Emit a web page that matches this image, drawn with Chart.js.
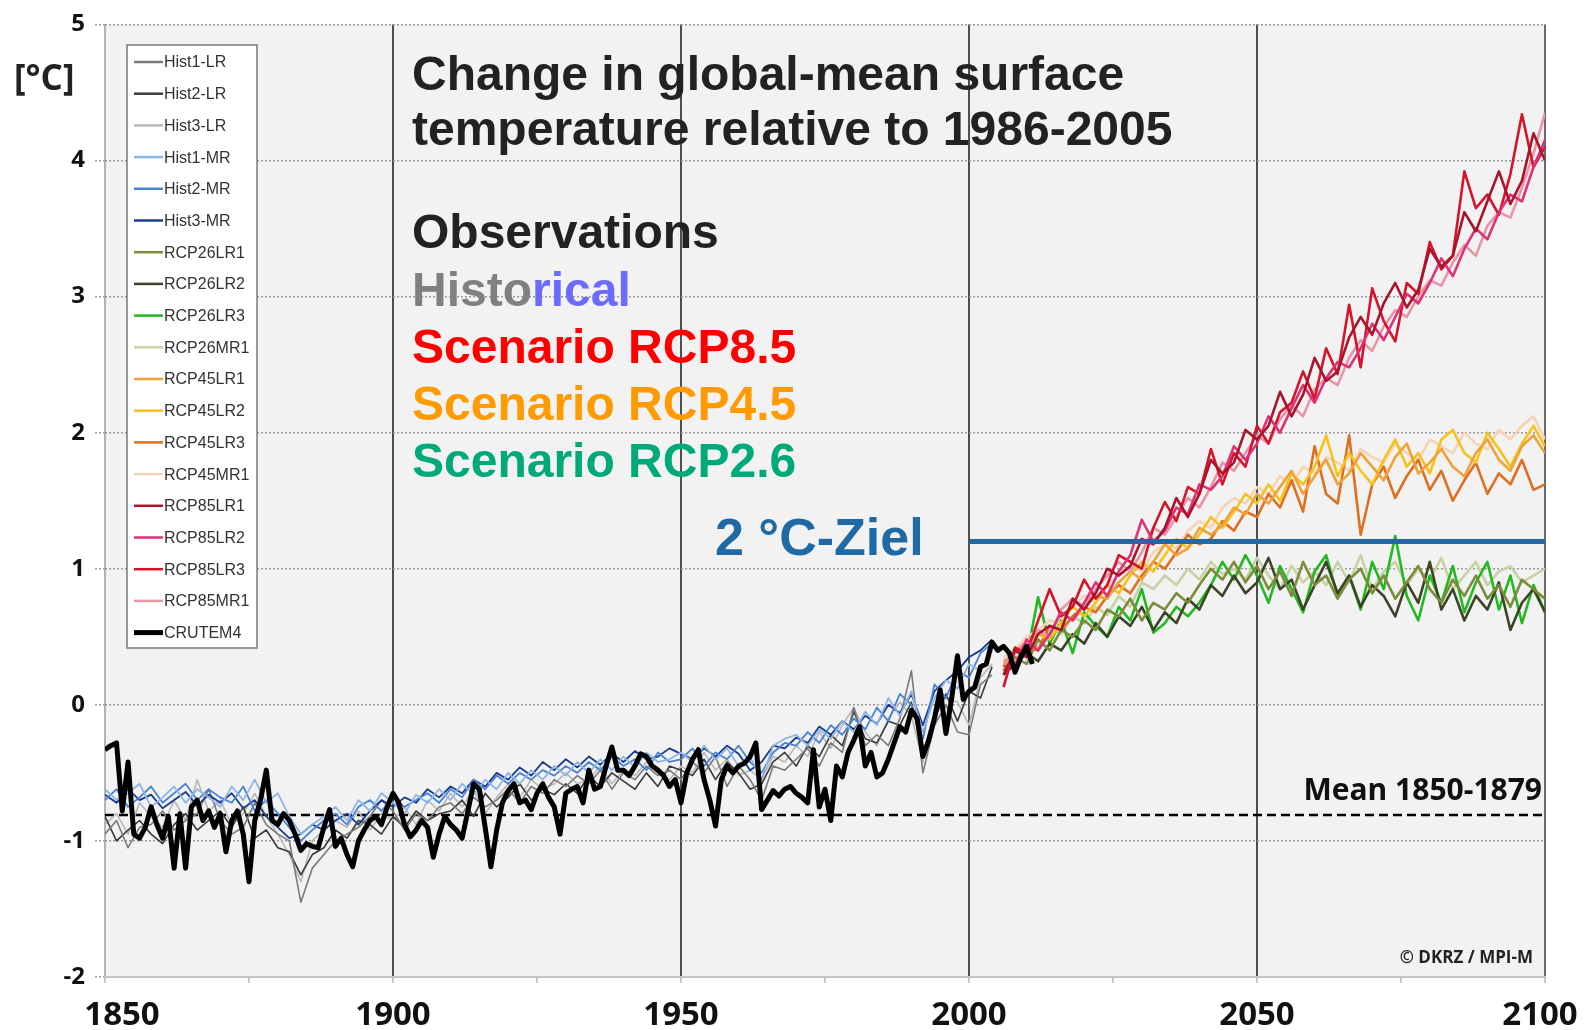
<!DOCTYPE html>
<html>
<head>
<meta charset="utf-8">
<title>Change in global-mean surface temperature</title>
<script src="https://cdn.jsdelivr.net/npm/chart.js@4/dist/chart.umd.min.js"></script>
<style>
  html, body { margin: 0; padding: 0; background: #fff; }
  canvas { display: block; }
</style>
</head>
<body>
<canvas id="chart" width="1590" height="1030"></canvas>
<script>
// ---------------------------------------------------------------------------
// Data (anomalies in °C relative to 1986-2005)
// ---------------------------------------------------------------------------

const X_TICKS = [1850, 1900, 1950, 2000, 2050, 2100];
const Y_TICKS = [-2, -1, 0, 1, 2, 3, 4, 5];

// model runs are sampled every 2 years
const HIST_START = 1850;
const RCP_START = 2006;
const MODEL_STEP = 2;
// observations are annual
const OBS_START = 1850;

const HIST1_LR = [
  -0.95, -0.85, -1.05, -0.90, -0.88, -0.78, -0.92, -0.85, -0.80, -0.62,
  -0.85, -0.95, -0.90, -0.72, -0.88, -0.95, -1.00, -1.45, -1.20, -1.10,
  -1.00, -0.95, -0.90, -0.82, -0.70, -0.78, -0.92, -0.80, -0.85, -0.75,
  -0.72, -0.80, -0.68, -0.75, -0.70, -0.62, -0.72, -0.60, -0.65, -0.55,
  -0.60, -0.52, -0.58, -0.48, -0.62, -0.50, -0.55, -0.45, -0.52, -0.48,
  -0.55, -0.42, -0.50, -0.38, -0.60, -0.45, -0.55, -0.70, -0.45, -0.48,
  -0.40, -0.32, -0.45, -0.28, -0.35, -0.02, -0.30, -0.22, -0.30, -0.10,
  0.25, -0.50, -0.15, 0.00, -0.20, -0.22, 0.15, 0.22,
];
const HIST2_LR = [
  -0.82, -1.00, -0.92, -0.85, -0.95, -1.02, -0.88, -0.80, -0.92, -0.85,
  -0.78, -0.90, -0.75, -0.98, -0.92, -1.05, -1.08, -1.25, -1.10, -1.05,
  -0.92, -0.98, -0.85, -0.88, -0.95, -0.82, -0.90, -0.78, -0.85, -0.80,
  -0.78, -0.70, -0.82, -0.65, -0.75, -0.68, -0.58, -0.70, -0.62, -0.66,
  -0.58, -0.65, -0.52, -0.60, -0.50, -0.56, -0.62, -0.50, -0.60, -0.45,
  -0.48, -0.52, -0.40, -0.55, -0.42, -0.50, -0.62, -0.58, -0.42, -0.35,
  -0.45, -0.30, -0.38, -0.22, -0.30, -0.05, -0.25, -0.28, -0.12, -0.15,
  0.02, -0.35, -0.10, 0.08, -0.12, 0.10, 0.05, 0.28,
];
const HIST3_LR = [
  -0.88, -0.80, -0.95, -0.72, -0.82, -0.90, -0.70, -0.85, -0.55, -0.78,
  -0.70, -0.88, -0.80, -0.65, -0.82, -0.95, -1.10, -1.30, -1.00, -0.92,
  -0.85, -0.90, -0.78, -0.92, -0.80, -0.85, -0.75, -0.88, -0.70, -0.78,
  -0.65, -0.75, -0.62, -0.80, -0.68, -0.58, -0.68, -0.55, -0.62, -0.58,
  -0.50, -0.58, -0.55, -0.45, -0.58, -0.48, -0.52, -0.42, -0.50, -0.55,
  -0.45, -0.50, -0.35, -0.48, -0.40, -0.52, -0.48, -0.55, -0.38, -0.42,
  -0.30, -0.38, -0.20, -0.32, -0.15, -0.02, -0.20, -0.30, -0.10, 0.02,
  -0.08, -0.42, -0.05, 0.05, 0.02, -0.15, 0.20, 0.30,
];
const HIST1_MR = [
  -0.62, -0.70, -0.65, -0.58, -0.75, -0.68, -0.60, -0.72, -0.62, -0.68,
  -0.75, -0.60, -0.70, -0.55, -0.72, -0.65, -0.82, -0.95, -0.88, -0.82,
  -0.75, -0.85, -0.70, -0.78, -0.65, -0.72, -0.80, -0.66, -0.72, -0.62,
  -0.70, -0.58, -0.66, -0.55, -0.62, -0.50, -0.58, -0.48, -0.55, -0.45,
  -0.52, -0.42, -0.50, -0.40, -0.48, -0.38, -0.46, -0.35, -0.42, -0.40,
  -0.35, -0.42, -0.30, -0.40, -0.32, -0.45, -0.38, -0.55, -0.30, -0.25,
  -0.22, -0.30, -0.18, -0.25, -0.12, -0.20, -0.05, -0.15, 0.05, -0.08,
  0.10, -0.20, 0.05, 0.18, 0.12, 0.30, 0.25, 0.40,
];
const HIST2_MR = [
  -0.70, -0.62, -0.75, -0.68, -0.60, -0.72, -0.65, -0.58, -0.70, -0.62,
  -0.68, -0.72, -0.60, -0.78, -0.70, -0.80, -0.90, -1.00, -0.92, -0.85,
  -0.80, -0.88, -0.75, -0.70, -0.78, -0.68, -0.75, -0.70, -0.65, -0.72,
  -0.62, -0.68, -0.55, -0.62, -0.52, -0.58, -0.50, -0.55, -0.48, -0.52,
  -0.45, -0.50, -0.42, -0.48, -0.38, -0.45, -0.40, -0.48, -0.35, -0.42,
  -0.40, -0.32, -0.45, -0.35, -0.40, -0.30, -0.42, -0.50, -0.35, -0.28,
  -0.30, -0.20, -0.28, -0.15, -0.22, -0.10, -0.18, -0.02, -0.12, 0.08,
  0.00, -0.25, 0.15, 0.05, 0.25, 0.20, 0.38, 0.45,
];
const HIST3_MR = [
  -0.66, -0.72, -0.62, -0.70, -0.66, -0.76, -0.70, -0.64, -0.74, -0.66,
  -0.72, -0.65, -0.76, -0.70, -0.82, -0.90, -0.98, -0.95, -0.88, -0.92,
  -0.85, -0.80, -0.88, -0.78, -0.70, -0.75, -0.68, -0.72, -0.62, -0.68,
  -0.60, -0.65, -0.55, -0.60, -0.50, -0.55, -0.46, -0.52, -0.42, -0.48,
  -0.40, -0.46, -0.38, -0.44, -0.36, -0.42, -0.34, -0.40, -0.38, -0.32,
  -0.36, -0.40, -0.32, -0.38, -0.30, -0.36, -0.48, -0.42, -0.30, -0.32,
  -0.24, -0.28, -0.16, -0.22, -0.12, -0.18, -0.08, -0.14, 0.00, -0.06,
  0.08, -0.15, 0.10, 0.18, 0.25, 0.35, 0.40, 0.48,
];

const RCP26_LR1 = [
  0.25, 0.35, 0.30, 0.48, 0.40, 0.55, 0.50, 0.62, 0.55, 0.70,
  0.65, 0.78, 0.62, 0.75, 0.70, 0.82, 0.75, 0.88, 1.00, 0.92,
  1.05, 0.90, 1.02, 0.85, 0.98, 0.80, 1.05, 0.88, 0.95, 0.78,
  0.92, 1.00, 0.82, 0.95, 0.78, 0.90, 1.02, 0.85, 0.75, 0.92,
  0.80, 0.95, 0.78, 0.88, 0.72, 0.92, 0.85, 0.78,
];
const RCP26_LR2 = [
  0.22, 0.30, 0.38, 0.32, 0.45, 0.40, 0.52, 0.45, 0.60, 0.50,
  0.65, 0.58, 0.72, 0.55, 0.68, 0.60, 0.78, 0.70, 0.88, 0.80,
  0.95, 0.82, 0.90, 1.08, 0.85, 0.92, 0.70, 0.88, 1.05, 0.82,
  0.95, 0.72, 0.88, 0.80, 0.65, 0.90, 0.75, 1.05, 0.70, 0.85,
  0.62, 0.80, 0.70, 0.90, 0.55, 0.75, 0.85, 0.68,
];
const RCP26_LR3 = [
  0.28, 0.42, 0.35, 0.79, 0.45, 0.62, 0.38, 0.68, 0.58, 0.50,
  0.72, 0.62, 0.85, 0.53, 0.60, 0.72, 0.65, 0.75, 0.88, 1.05,
  0.92, 1.10, 0.95, 0.75, 1.02, 0.85, 0.68, 0.98, 1.10, 0.80,
  0.95, 0.70, 1.05, 0.85, 1.24, 0.80, 0.62, 0.95, 0.75, 1.02,
  0.68, 0.90, 1.05, 0.70, 0.95, 0.60, 0.88, 0.68,
];
const RCP26_MR1 = [
  0.30, 0.38, 0.48, 0.42, 0.58, 0.52, 0.65, 0.60, 0.72, 0.66,
  0.80, 0.72, 0.90, 0.85, 0.95, 0.88, 1.00, 0.92, 1.05, 0.96,
  1.00, 0.92, 1.08, 0.95, 0.85, 1.02, 0.90, 0.98, 0.88, 1.05,
  0.90, 1.10, 0.85, 0.98, 1.05, 0.88, 1.00, 0.92, 1.08, 0.85,
  0.95, 1.05, 0.88, 0.98, 1.02, 0.90, 0.95, 1.00,
];

const RCP45_LR1 = [
  0.28, 0.40, 0.45, 0.52, 0.50, 0.68, 0.62, 0.72, 0.80, 0.78,
  0.90, 0.98, 0.92, 1.05, 1.18, 1.10, 1.15, 1.30, 1.25, 1.32,
  1.45, 1.40, 1.55, 1.48, 1.60, 1.72, 1.55, 1.68, 1.80, 1.62,
  1.70, 1.85, 1.75, 1.65, 1.82, 1.92, 1.70, 1.78, 1.88, 1.75,
  1.68, 1.85, 1.95, 1.80, 1.72, 1.90, 1.98, 1.85,
];
const RCP45_LR2 = [
  0.32, 0.30, 0.45, 0.52, 0.48, 0.60, 0.72, 0.65, 0.75, 0.88,
  0.82, 0.95, 1.05, 0.98, 1.10, 1.22, 1.15, 1.25, 1.38, 1.30,
  1.42, 1.55, 1.48, 1.62, 1.50, 1.70, 1.62, 1.75, 1.98, 1.68,
  1.85, 1.72, 1.62, 1.80, 1.95, 1.75, 1.85, 1.70, 1.95, 2.02,
  1.85, 1.78, 2.00, 1.88, 1.75, 1.92, 2.05, 1.90,
];
const RCP45_LR3 = [
  0.25, 0.38, 0.42, 0.40, 0.58, 0.55, 0.65, 0.72, 0.68, 0.80,
  0.88, 0.82, 0.95, 1.05, 1.00, 1.12, 1.25, 1.18, 1.22, 1.35,
  1.28, 1.42, 1.38, 1.55, 1.45, 1.65, 1.42, 1.90, 1.55, 1.48,
  1.98, 1.25, 1.62, 1.75, 1.52, 1.68, 1.80, 1.58, 1.72, 1.50,
  1.65, 1.78, 1.55, 1.70, 1.62, 1.80, 1.58, 1.62,
];
const RCP45_MR1 = [
  0.35, 0.40, 0.50, 0.55, 0.62, 0.60, 0.72, 0.80, 0.75, 0.88,
  0.95, 1.02, 0.98, 1.12, 1.18, 1.15, 1.28, 1.35, 1.30, 1.45,
  1.52, 1.48, 1.60, 1.55, 1.68, 1.62, 1.75, 1.70, 1.82, 1.78,
  1.72, 1.88, 1.82, 1.78, 1.92, 1.85, 1.80, 1.95, 1.90, 1.85,
  2.00, 1.92, 1.88, 2.02, 1.95, 2.05, 2.12, 1.95,
];

const RCP85_LR1 = [
  0.22, 0.40, 0.35, 0.52, 0.58, 0.55, 0.78, 0.70, 0.82, 1.00,
  0.95, 1.02, 1.22, 1.18, 1.30, 1.52, 1.38, 1.55, 1.80, 1.70,
  1.78, 2.02, 1.95, 2.05, 2.30, 2.12, 2.28, 2.55, 2.38, 2.45,
  2.70, 2.85, 2.72, 2.95, 3.10, 2.92, 3.05, 3.35, 3.22, 3.30,
  3.62, 3.48, 3.70, 3.92, 3.68, 3.85, 4.20, 4.00,
];
const RCP85_LR2 = [
  0.28, 0.30, 0.48, 0.40, 0.52, 0.68, 0.62, 0.75, 0.90, 0.80,
  0.98, 1.10, 1.36, 1.20, 1.28, 1.45, 1.40, 1.62, 1.58, 1.68,
  1.90, 1.80, 1.92, 2.12, 2.00, 2.18, 2.35, 2.22, 2.40, 2.52,
  2.48, 2.62, 2.80, 2.68, 2.85, 3.02, 2.95, 3.10, 3.28, 3.15,
  3.35, 3.50, 3.42, 3.62, 3.75, 3.70, 3.95, 4.15,
];
const RCP85_LR3 = [
  0.13, 0.42, 0.38, 0.62, 0.85, 0.65, 0.72, 0.92, 0.78, 0.88,
  1.10, 1.05, 1.00, 1.30, 1.49, 1.35, 1.60, 1.55, 1.88, 1.62,
  1.85, 1.75, 2.05, 1.92, 2.15, 2.22, 2.45, 2.25, 2.62, 2.43,
  2.94, 2.48, 3.06, 2.82, 2.67, 3.10, 3.02, 3.40, 3.20, 3.30,
  3.92, 3.65, 3.75, 3.60, 3.90, 4.34, 3.95, 4.10,
];
const RCP85_MR1 = [
  0.32, 0.38, 0.45, 0.55, 0.50, 0.70, 0.78, 0.72, 0.85, 0.95,
  1.05, 0.98, 1.12, 1.30, 1.25, 1.38, 1.52, 1.45, 1.60, 1.78,
  1.72, 1.85, 1.98, 1.92, 2.10, 2.20, 2.12, 2.32, 2.40, 2.35,
  2.55, 2.68, 2.60, 2.78, 2.90, 2.85, 3.00, 3.12, 3.08, 3.25,
  3.38, 3.30, 3.52, 3.62, 3.58, 3.80, 4.05, 4.35,
];

const CRUTEM4 = [
  -0.33, -0.30, -0.28, -0.78, -0.42, -0.95, -0.98, -0.90, -0.75, -0.88,
  -0.98, -0.82, -1.20, -0.80, -1.20, -0.75, -0.70, -0.85, -0.78, -0.90,
  -0.80, -1.08, -0.85, -0.78, -0.95, -1.30, -0.85, -0.70, -0.48, -0.85,
  -0.88, -0.80, -0.85, -0.95, -1.07, -1.02, -1.04, -1.05, -0.90, -0.77,
  -1.04, -0.98, -1.10, -1.19, -1.00, -0.92, -0.85, -0.82, -0.88, -0.75,
  -0.65, -0.72, -0.88, -0.97, -0.92, -0.85, -0.90, -1.12, -0.95, -0.82,
  -0.88, -0.92, -0.98, -0.78, -0.58, -0.62, -0.90, -1.19, -0.92, -0.72,
  -0.63, -0.58, -0.72, -0.70, -0.77, -0.65, -0.58, -0.68, -0.75, -0.95,
  -0.65, -0.62, -0.60, -0.72, -0.48, -0.62, -0.60, -0.45, -0.31, -0.48,
  -0.48, -0.52, -0.45, -0.36, -0.38, -0.45, -0.48, -0.52, -0.60, -0.55,
  -0.72, -0.50, -0.40, -0.33, -0.55, -0.70, -0.89, -0.55, -0.45, -0.50,
  -0.45, -0.43, -0.38, -0.28, -0.77, -0.70, -0.63, -0.67, -0.62, -0.60,
  -0.65, -0.68, -0.72, -0.33, -0.75, -0.62, -0.85, -0.45, -0.53, -0.35,
  -0.26, -0.16, -0.45, -0.35, -0.53, -0.50, -0.40, -0.28, -0.16, -0.20,
  -0.04, -0.10, -0.38, -0.26, -0.10, 0.11, -0.21, 0.05, 0.36, 0.04,
  0.10, 0.13, 0.28, 0.30, 0.46, 0.40, 0.43, 0.38, 0.24, 0.35,
  0.43, 0.30,
];

// reference levels
const MEAN_YEARS = [1850, 2100];
const MEAN_LEVEL = -0.81;      // mean 1850-1879
const TARGET_YEARS = [2000, 2100];
const TARGET_LEVEL = 1.2;      // 2 °C above the 1850-1879 mean

// ---------------------------------------------------------------------------
// Series definitions
// ---------------------------------------------------------------------------

const RUNS = [
  { label: 'Hist1-LR', color: '#7a7a7a', values: HIST1_LR, start: HIST_START, step: MODEL_STEP, width: 1.6, order: 6 },
  { label: 'Hist2-LR', color: '#3a3a3a', values: HIST2_LR, start: HIST_START, step: MODEL_STEP, width: 1.6, order: 6 },
  { label: 'Hist3-LR', color: '#b8b8b8', values: HIST3_LR, start: HIST_START, step: MODEL_STEP, width: 1.6, order: 6 },
  { label: 'Hist1-MR', color: '#8db6e6', values: HIST1_MR, start: HIST_START, step: MODEL_STEP, width: 1.8, order: 5 },
  { label: 'Hist2-MR', color: '#4a82d4', values: HIST2_MR, start: HIST_START, step: MODEL_STEP, width: 1.8, order: 5 },
  { label: 'Hist3-MR', color: '#1a3a8c', values: HIST3_MR, start: HIST_START, step: MODEL_STEP, width: 1.8, order: 5 },
  { label: 'RCP26LR1', color: '#7d8c3c', values: RCP26_LR1, start: RCP_START, step: MODEL_STEP, width: 2.6, order: 4 },
  { label: 'RCP26LR2', color: '#3b4526', values: RCP26_LR2, start: RCP_START, step: MODEL_STEP, width: 2.6, order: 4 },
  { label: 'RCP26LR3', color: '#22b822', values: RCP26_LR3, start: RCP_START, step: MODEL_STEP, width: 2.6, order: 4 },
  { label: 'RCP26MR1', color: '#c5d3a5', values: RCP26_MR1, start: RCP_START, step: MODEL_STEP, width: 2.6, order: 4 },
  { label: 'RCP45LR1', color: '#eda33a', values: RCP45_LR1, start: RCP_START, step: MODEL_STEP, width: 2.6, order: 3 },
  { label: 'RCP45LR2', color: '#f6c21c', values: RCP45_LR2, start: RCP_START, step: MODEL_STEP, width: 2.6, order: 3 },
  { label: 'RCP45LR3', color: '#de6f1e', values: RCP45_LR3, start: RCP_START, step: MODEL_STEP, width: 2.6, order: 3 },
  { label: 'RCP45MR1', color: '#f7d3b4', values: RCP45_MR1, start: RCP_START, step: MODEL_STEP, width: 2.6, order: 3 },
  { label: 'RCP85LR1', color: '#a8142c', values: RCP85_LR1, start: RCP_START, step: MODEL_STEP, width: 2.6, order: 2 },
  { label: 'RCP85LR2', color: '#de3278', values: RCP85_LR2, start: RCP_START, step: MODEL_STEP, width: 2.6, order: 2 },
  { label: 'RCP85LR3', color: '#d4142a', values: RCP85_LR3, start: RCP_START, step: MODEL_STEP, width: 2.6, order: 2 },
  { label: 'RCP85MR1', color: '#e895a5', values: RCP85_MR1, start: RCP_START, step: MODEL_STEP, width: 2.6, order: 2 },
  { label: 'CRUTEM4', color: '#000000', values: CRUTEM4, start: OBS_START, step: 1, width: 5, order: 1 },
];

const FONT_TITLE = '"Liberation Sans", Arial, sans-serif';
const FONT_AXIS = '"Open Sans", "DejaVu Sans", sans-serif';

// the outer year labels sit slightly inside the frame
const X_LABEL_SHIFT = { 1850: 17, 2100: -5 };

/**
 * Turn an evenly spaced list of values into {x, y} points.
 */
function toPoints(start, step, values) {
  return values.map((y, i) => ({ x: start + i * step, y }));
}

function levelLine(years, level) {
  return years.map((x) => ({ x, y: level }));
}

// ---------------------------------------------------------------------------
// Plugins
// ---------------------------------------------------------------------------

const plotBackground = {
  id: 'plotBackground',
  beforeDraw(chart) {
    const { ctx, chartArea: a } = chart;
    ctx.save();
    ctx.fillStyle = '#ffffff';
    ctx.fillRect(0, 0, chart.width, chart.height);
    ctx.fillStyle = '#f2f2f2';
    ctx.fillRect(a.left, a.top, a.right - a.left, a.bottom - a.top);
    ctx.restore();
  },
};

const annotations = {
  id: 'annotations',
  afterDatasetsDraw(chart) {
    const { ctx } = chart;
    ctx.save();
    ctx.textBaseline = 'alphabetic';
    ctx.textAlign = 'left';

    // title block
    ctx.font = `bold 48px ${FONT_TITLE}`;
    ctx.fillStyle = '#222222';
    ctx.fillText('Change in global-mean surface', 412, 90);
    ctx.fillText('temperature relative to 1986-2005', 412, 145);
    ctx.fillText('Observations', 412, 248);

    ctx.fillStyle = '#808080';
    ctx.fillText('Histo', 412, 306);
    const w = ctx.measureText('Histo').width;
    ctx.fillStyle = '#6b6bff';
    ctx.fillText('rical', 412 + w, 306);

    ctx.fillStyle = '#ff0000';
    ctx.fillText('Scenario RCP8.5', 412, 363);
    ctx.fillStyle = '#ff9a00';
    ctx.fillText('Scenario RCP4.5', 412, 420);
    ctx.fillStyle = '#00aa78';
    ctx.fillText('Scenario RCP2.6', 412, 477);

    // 2 °C target label
    ctx.font = `bold 52px ${FONT_TITLE}`;
    ctx.fillStyle = '#1f69a5';
    ctx.fillText('2 °C-Ziel', 715, 555);

    // unit
    ctx.font = `bold 35px ${FONT_AXIS}`;
    ctx.fillStyle = '#222222';
    ctx.fillText('[°C]', 14, 90);

    // year labels
    const xs = chart.scales.x;
    ctx.textAlign = 'center';
    ctx.font = `bold 33px ${FONT_AXIS}`;
    ctx.fillStyle = '#111111';
    X_TICKS.forEach((v) => {
      ctx.fillText(String(v), xs.getPixelForValue(v) + (X_LABEL_SHIFT[v] || 0), 1025);
    });

    // mean label and credit
    ctx.textAlign = 'right';
    ctx.font = `bold 30px ${FONT_AXIS}`;
    ctx.fillStyle = '#111111';
    ctx.fillText('Mean 1850-1879', 1542, 800);
    ctx.font = `bold 17px ${FONT_AXIS}`;
    ctx.fillStyle = '#222222';
    ctx.fillText('© DKRZ / MPI-M', 1533, 963);
    ctx.restore();
  },
};

const runLegend = {
  id: 'runLegend',
  afterDatasetsDraw(chart) {
    const { ctx } = chart;
    const box = { x: 127, y: 45, w: 130, h: 603 };
    ctx.save();
    ctx.fillStyle = '#ffffff';
    ctx.fillRect(box.x, box.y, box.w, box.h);
    ctx.strokeStyle = '#7a7a7a';
    ctx.lineWidth = 1.5;
    ctx.strokeRect(box.x, box.y, box.w, box.h);

    ctx.font = `16px ${FONT_TITLE}`;
    ctx.textBaseline = 'middle';
    ctx.textAlign = 'left';
    RUNS.forEach((run, i) => {
      const cy = 62 + i * 31.7;
      ctx.strokeStyle = run.color;
      ctx.lineWidth = run.label === 'CRUTEM4' ? 5 : 2.5;
      ctx.beginPath();
      ctx.moveTo(134, cy);
      ctx.lineTo(163, cy);
      ctx.stroke();
      ctx.fillStyle = '#333333';
      ctx.fillText(run.label, 164, cy + 1);
    });
    ctx.restore();
  },
};

// ---------------------------------------------------------------------------
// Chart
// ---------------------------------------------------------------------------

function buildDatasets() {
  const sets = RUNS.map((run) => ({
    label: run.label,
    data: toPoints(run.start, run.step, run.values),
    borderColor: run.color,
    borderWidth: run.width,
    pointRadius: 0,
    tension: 0,
    borderJoinStyle: 'round',
    order: run.order,
  }));

  sets.push({
    label: 'Mean 1850-1879',
    data: levelLine(MEAN_YEARS, MEAN_LEVEL),
    borderColor: '#000000',
    borderWidth: 2.5,
    borderDash: [9, 5],
    pointRadius: 0,
    order: 10,
  });

  sets.push({
    label: '2 °C-Ziel',
    data: levelLine(TARGET_YEARS, TARGET_LEVEL),
    borderColor: '#2467a3',
    borderWidth: 5,
    pointRadius: 0,
    order: 0,
  });
  return sets;
}

new Chart(document.getElementById('chart'), {
  type: 'line',
  data: { datasets: buildDatasets() },
  options: {
    responsive: false,
    animation: false,
    layout: { padding: { top: 24, right: 45, left: 0, bottom: 0 } },
    plugins: {
      legend: { display: false },
      tooltip: { enabled: false },
    },
    scales: {
      x: {
        type: 'linear',
        min: 1850,
        max: 2100,
        afterFit: (s) => {
          s.height = 53;
          s.paddingLeft = 0;
          s.paddingRight = 0;
        },
        afterBuildTicks: (s) => {
          const ticks = [];
          for (let v = 1850; v <= 2100; v += 25) ticks.push({ value: v });
          s.ticks = ticks;
        },
        ticks: { display: false },
        grid: {
          lineWidth: 2,
          tickLength: 6,
          tickColor: '#c8c8c8',
          color: (c) => {
            const v = c.tick && c.tick.value;
            if (v === 1850) return '#b4b4b4';
            if (v === 2100) return '#6a6a6a';
            return X_TICKS.includes(v) ? '#4e4e4e' : 'rgba(0,0,0,0)';
          },
        },
        border: { display: true, color: '#c4c4c4', width: 2 },
      },
      y: {
        min: -2,
        max: 5,
        afterFit: (s) => { s.width = 105; },
        afterBuildTicks: (s) => {
          s.ticks = Y_TICKS.map((v) => ({ value: v }));
        },
        ticks: {
          padding: 10,
          color: '#111111',
          font: { family: FONT_AXIS, size: 24, weight: 'bold' },
        },
        grid: {
          color: '#9b9b9b',
          lineWidth: 1.5,
          tickLength: 10,
          tickBorderDash: [2, 2],
        },
        border: { display: false, dash: [2, 2] },
      },
    },
  },
  plugins: [plotBackground, annotations, runLegend],
});
</script>
</body>
</html>
